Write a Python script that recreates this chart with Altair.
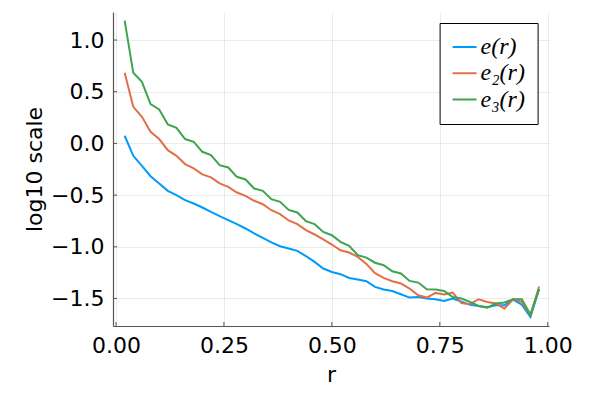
import altair as alt
import pandas as pd

# ---- data ----
r = [0.02, 0.04, 0.06, 0.08, 0.10, 0.12, 0.14, 0.16, 0.18, 0.20,
     0.22, 0.24, 0.26, 0.28, 0.30, 0.32, 0.34, 0.36, 0.38, 0.40,
     0.42, 0.44, 0.46, 0.48, 0.50, 0.52, 0.54, 0.56, 0.58, 0.60,
     0.62, 0.64, 0.66, 0.68, 0.70, 0.72, 0.74, 0.76, 0.78, 0.80,
     0.82, 0.84, 0.86, 0.88, 0.90, 0.92, 0.94, 0.96, 0.98]

e1 = [0.074, -0.120, -0.217, -0.317, -0.387, -0.459, -0.500, -0.549, -0.581, -0.620,
      -0.662, -0.704, -0.742, -0.781, -0.823, -0.871, -0.914, -0.958, -0.994, -1.016,
      -1.039, -1.091, -1.146, -1.210, -1.243, -1.265, -1.301, -1.317, -1.333, -1.388,
      -1.413, -1.427, -1.459, -1.491, -1.485, -1.500, -1.507, -1.524, -1.500, -1.530,
      -1.560, -1.572, -1.585, -1.565, -1.565, -1.510, -1.560, -1.680, -1.410]

e2 = [0.683, 0.354, 0.258, 0.112, 0.042, -0.065, -0.120, -0.200, -0.242, -0.300,
      -0.329, -0.387, -0.420, -0.475, -0.507, -0.555, -0.588, -0.646, -0.684, -0.745,
      -0.781, -0.839, -0.881, -0.929, -0.978, -1.033, -1.055, -1.098, -1.165, -1.255,
      -1.300, -1.333, -1.355, -1.404, -1.469, -1.491, -1.446, -1.462, -1.442, -1.545,
      -1.555, -1.507, -1.533, -1.549, -1.597, -1.507, -1.533, -1.662, -1.385]

e3 = [1.187, 0.683, 0.596, 0.380, 0.329, 0.184, 0.151, 0.042, 0.016, -0.081,
      -0.113, -0.210, -0.233, -0.323, -0.349, -0.436, -0.459, -0.539, -0.565, -0.643,
      -0.668, -0.752, -0.781, -0.856, -0.888, -0.952, -0.991, -1.081, -1.104, -1.154,
      -1.178, -1.236, -1.258, -1.330, -1.346, -1.410, -1.413, -1.427, -1.485, -1.500,
      -1.533, -1.572, -1.588, -1.549, -1.539, -1.507, -1.507, -1.655, -1.410]

series_names = ["e(r)", "e\u2082(r)", "e\u2083(r)"]
colors = ["#009AFA", "#E36F47", "#3EA44E"]

x_ticks = [0.0, 0.25, 0.5, 0.75, 1.0]
y_ticks = [-1.5, -1.0, -0.5, 0.0, 0.5, 1.0]

rows = []
for name, vals in zip(series_names, [e1, e2, e3]):
    for rv, v in zip(r, vals):
        rows.append({"r": rv, "value": v, "series": name})
df = pd.DataFrame(rows)

W, H = 436, 314
AXC = "#555555"
xs = alt.Scale(domain=[-0.007, 1.003], nice=False, zero=False)
ys = alt.Scale(domain=[-1.766, 1.271], nice=False, zero=False)

x_axis = alt.Axis(values=x_ticks, format=".2f", title="r", ticks=False,
                  labelPadding=9, titlePadding=8)
y_axis = alt.Axis(values=y_ticks, format=".1f", title="log10 scale", ticks=False,
                  labelPadding=9, titlePadding=4)

lines = alt.Chart(df).mark_line(strokeWidth=2, clip=True).encode(
    x=alt.X("r:Q", scale=xs, axis=x_axis),
    y=alt.Y("value:Q", scale=ys, axis=y_axis),
    color=alt.Color("series:N",
                    scale=alt.Scale(domain=series_names, range=colors),
                    legend=alt.Legend(orient="none", legendX=326.6, legendY=11, title=None,
                                      fillColor="white", strokeColor="#000000", padding=12,
                                      symbolType="stroke", symbolStrokeWidth=2, symbolSize=576,
                                      labelFont="Liberation Serif", labelFontStyle="italic",
                                      labelFontSize=24, labelColor="#000000", labelOffset=3,
                                      rowPadding=2.3, clipHeight=24)),
)

xt = alt.Chart(pd.DataFrame({"t": x_ticks})).mark_rule(color=AXC, strokeWidth=1).encode(
    x=alt.X("t:Q", scale=xs, axis=x_axis), y=alt.value(H), y2=alt.value(H - 4))
yt = alt.Chart(pd.DataFrame({"t": y_ticks})).mark_rule(color=AXC, strokeWidth=1).encode(
    y=alt.Y("t:Q", scale=ys, axis=y_axis), x=alt.value(0), x2=alt.value(4))

chart = alt.layer(lines, xt, yt).properties(
    width=W, height=H,
    background="white",
    padding={"left": 105, "top": 4, "right": 40, "bottom": 60},
    autosize=alt.AutoSizeParams(type="none"),
).configure_view(stroke=None).configure_axis(
    labelFont="DejaVu Sans", labelFontSize=22, labelColor="#000000",
    titleFont="DejaVu Sans", titleFontSize=22, titleColor="#000000", titleFontWeight="normal",
    domainColor=AXC, domainWidth=1.2,
    gridColor="#000000", gridOpacity=0.08, gridWidth=1,
)

chart.save("out.html", embed_options={"renderer": "svg", "actions": False})
